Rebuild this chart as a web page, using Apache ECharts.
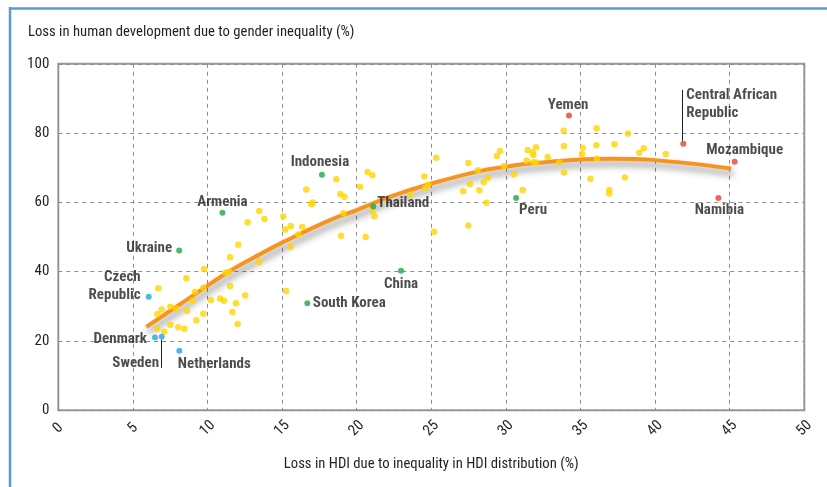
<!DOCTYPE html>
<html>
<head>
<meta charset="utf-8">
<script src="https://cdn.jsdelivr.net/npm/echarts@6/dist/echarts.min.js"></script>
<style>
  html, body { margin: 0; padding: 0; background: #fff; }
  #chart-container { width: 827px; height: 487px; }
</style>
</head>
<body>
<div id="chart-container"></div>
<script>
// unnamed countries (yellow)
const otherX = [13.47, 12.69, 12.06, 11.51, 11.45, 11.2, 9.77, 8.58, 6.7, 11.51, 12.53, 9.16, 9.72, 10.23, 10.84, 11.1, 11.91, 9.01, 7.91, 7.51, 6.93, 6.64, 8.63, 9.72, 11.66, 9.25, 7.51, 8.04, 8.45, 6.64, 7.1, 12.02,
  20.73, 21.05, 18.63, 20.22, 16.62, 18.9, 19.17, 17.05, 16.96, 13.81, 15.08, 19.1, 21.05, 21.18, 15.21, 15.58, 16.35, 16.09, 15.55, 18.95, 20.6, 13.47, 15.26,
  25.33, 27.48, 29.6, 29.4, 31.46, 31.39, 29.87, 28.11, 30.54, 24.53, 24.8, 24.6, 23.59, 28.8, 28.51, 27.59, 27.14, 28.22, 28.69, 31.13, 25.18, 27.48,
  33.87, 36.08, 38.18, 33.89, 35.15, 36.06, 37.27, 39.24, 38.94, 32.02, 31.8, 31.84, 32.8, 35.1, 31.84, 32.02, 33.58, 36.1, 33.89, 35.66, 37.98, 36.93, 36.93, 40.71];
const otherY = [57.5, 54.3, 47.8, 44.2, 40.0, 39.8, 40.8, 38.1, 35.2, 35.9, 33.1, 34.2, 35.4, 31.8, 32.3, 31.6, 30.9, 31.6, 29.4, 29.9, 29.1, 27.8, 28.7, 27.9, 28.4, 26.0, 24.6, 24.0, 23.5, 23.5, 22.7, 24.9,
  68.8, 67.8, 66.7, 64.5, 63.7, 62.4, 61.6, 60.0, 59.5, 55.2, 55.9, 56.9, 57.5, 56.0, 52.2, 53.2, 52.9, 50.7, 47.1, 50.4, 50.0, 42.9, 34.4,
  72.9, 71.4, 74.8, 73.4, 75.1, 72.0, 70.5, 69.3, 68.1, 67.5, 65.0, 64.2, 62.2, 67.2, 65.8, 65.3, 63.2, 63.5, 59.9, 63.6, 51.5, 53.3,
  80.7, 81.4, 79.9, 76.3, 75.8, 76.5, 76.8, 75.6, 74.3, 75.9, 74.5, 73.7, 73.1, 73.9, 71.6, 71.5, 71.5, 72.6, 68.6, 66.8, 67.2, 63.6, 62.6, 74.0];

// named countries
const namedCountries = ["Czech\nRepublic", "Denmark", "Sweden", "Netherlands", "Ukraine", "Armenia", "Indonesia", "South Korea", "Thailand", "China", "Peru", "Yemen", "Central African\nRepublic", "Mozambique", "Namibia"];
const namedX = [6.06, 6.48, 6.93, 8.11, 8.1, 11.0, 17.67, 16.69, 21.11, 22.97, 30.68, 34.23, 41.89, 45.33, 44.24];
const namedY = [32.8, 21.0, 21.2, 17.2, 46.1, 57.0, 68.0, 30.9, 58.8, 40.3, 61.3, 85.1, 76.9, 71.7, 61.3];
const namedGroup = ["blue", "blue", "blue", "blue", "green", "green", "green", "green", "green", "green", "green", "red", "red", "red", "red"];

// fitted curve
const trendX = [5.9, 8.5, 11.5, 13.5, 15, 18.2, 20, 22.2, 24.9, 28.3, 30, 31.6, 35, 37, 40, 45.1];
const trendY = [24.1, 31.6, 40.2, 45.0, 48.4, 54.9, 57.8, 61.6, 65.3, 69.1, 70.3, 71.2, 72.4, 72.6, 72.2, 69.8];

const groupColors = { blue: "#1ea9e1", green: "#22a84a", red: "#ee3e2e" };
const font = "'Liberation Sans Narrow', 'Roboto Condensed', 'Noto Sans Condensed', 'DejaVu Sans Condensed', sans-serif";
const ink = "#231f20";

// label placement (offset of label centre from the dot, px)
const labelPlace = {
  "Czech\nRepublic": { position: "left", distance: 5, align: "right", offset: [0, -10] },
  "Denmark": { position: "left", distance: 5, align: "right", offset: [0, 1.5] },
  "Sweden": { offset: [-26, 26] },
  "Netherlands": { offset: [35, 14] },
  "Ukraine": { offset: [-30, -2] },
  "Armenia": { offset: [0, -11] },
  "Indonesia": { offset: [-2, -12] },
  "South Korea": { offset: [42, 0] },
  "Thailand": { offset: [30, -3] },
  "China": { offset: [0, 14] },
  "Peru": { offset: [17, 12] },
  "Yemen": { offset: [-1, -10] },
  "Central African\nRepublic": { align: "left", offset: [3, -40] },
  "Mozambique": { offset: [10, -12] },
  "Namibia": { offset: [1, 12] },
};
// leader lines (pixel length from the dot)
const leaders = { "Sweden": 31, "Central African\nRepublic": -54 };

(() => {
  var dom = document.getElementById("chart-container");
  var chart = echarts.init(dom, null, { renderer: "canvas" });

  const namedSeries = Object.keys(groupColors).map((g) => ({
    name: g,
    type: "scatter",
    symbolSize: 6,
    z: 5,
    itemStyle: { color: groupColors[g] },
    data: namedCountries
      .map((n, i) => ({ n, i }))
      .filter((d) => namedGroup[d.i] === g)
      .map((d) => {
        const p = labelPlace[d.n] || {};
        return {
          name: d.n,
          value: [namedX[d.i], namedY[d.i]],
          label: {
            show: true,
            formatter: "{b}",
            position: p.position || "inside",
            distance: p.distance || 0,
            align: p.align || "center",
            verticalAlign: "middle",
            offset: p.offset || [0, 0],
            color: ink,
            fontFamily: font,
            fontWeight: "bold",
            fontSize: 15,
            lineHeight: 18,
          },
        };
      }),
  }));

  const option = {
    animation: false,
    title: {
      text: "Loss in human development due to gender inequality (%)",
      left: 23,
      top: 20,
      textStyle: { color: ink, fontFamily: font, fontSize: 14.7, fontWeight: "normal" },
    },
    grid: {
      left: 58.3,
      right: 22.7,
      top: 63.8,
      bottom: 76.7,
      show: true,
      borderColor: "#999",
      borderWidth: 2,
    },
    xAxis: {
      type: "value",
      min: 0,
      max: 50,
      interval: 5,
      name: "Loss in HDI due to inequality in HDI distribution (%)",
      nameLocation: "middle",
      nameGap: 47,
      nameTextStyle: { color: ink, fontFamily: font, fontSize: 14.7 },
      axisLine: { show: false },
      axisTick: { show: false },
      axisLabel: {
        rotate: 45,
        align: "center",
        verticalAlign: "middle",
        margin: 18,
        color: ink,
        fontFamily: font,
        fontSize: 15,
      },
      splitLine: { lineStyle: { color: "#8c8c8c", type: [4, 4], width: 1 } },
    },
    yAxis: {
      type: "value",
      min: 0,
      max: 100,
      interval: 20,
      axisLine: { show: false },
      axisTick: { show: false },
      axisLabel: { margin: 9, color: ink, fontFamily: font, fontSize: 15 },
      splitLine: { lineStyle: { color: "#8c8c8c", type: [4, 4], width: 1 } },
    },
    series: [
      {
        name: "trend",
        type: "line",
        smooth: 0.4,
        showSymbol: false,
        z: 3,
        lineStyle: {
          color: "#f7941d",
          width: 4,
          shadowColor: "rgba(0,0,0,0.45)",
          shadowBlur: 7,
          shadowOffsetX: 2,
          shadowOffsetY: 5,
        },
        data: trendX.map((x, i) => [x, trendY[i]]),
      },
      {
        name: "other",
        type: "scatter",
        symbolSize: 6.5,
        z: 4,
        itemStyle: { color: "#ffd400" },
        data: otherX.map((x, i) => [x, otherY[i]]),
      },
      ...namedSeries,
    ],
  };
  chart.setOption(option);

  // decorative frame + leader lines
  const graphics = [
    { type: "line", shape: { x1: 9, y1: 8.5, x2: 827, y2: 8.5 }, style: { stroke: "#5b9bd5", lineWidth: 2.5 }, silent: true },
    { type: "line", shape: { x1: 10, y1: 7, x2: 10, y2: 487 }, style: { stroke: "#5b9bd5", lineWidth: 2.5 }, silent: true },
  ];
  Object.keys(leaders).forEach((n) => {
    const i = namedCountries.indexOf(n);
    const p = chart.convertToPixel({ gridIndex: 0 }, [namedX[i], namedY[i]]);
    const dy = leaders[n];
    const sx = Math.round(p[0]) - 0.5;
    graphics.push({
      type: "line",
      shape: { x1: sx, y1: p[1] + Math.sign(dy) * 3, x2: sx, y2: p[1] + dy },
      style: { stroke: ink, lineWidth: 1 },
      silent: true,
      z: 10,
    });
  });
  chart.setOption({ graphic: graphics });
  window.addEventListener("resize", chart.resize);
})();
</script>
</body>
</html>
